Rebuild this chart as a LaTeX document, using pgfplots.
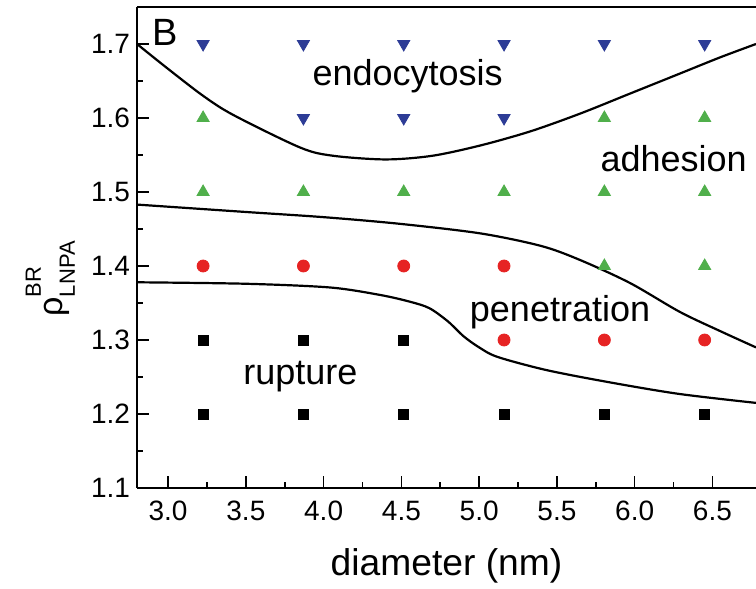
\documentclass[border=0pt]{standalone}
\usepackage{pgfplots}
\pgfplotsset{compat=1.18}
\usepackage{fontspec}
\setmainfont{Liberation Sans}

\definecolor{triblue}{RGB}{45,60,150}
\definecolor{trigreen}{RGB}{80,175,75}
\definecolor{dotred}{RGB}{230,35,35}

\begin{document}
\begin{tikzpicture}
\begin{axis}[
    scale only axis,
    width=309.5pt, height=240.5pt,
    xmin=2.8, xmax=6.78,
    ymin=1.1, ymax=1.75,
    axis x line=box, axis y line=left,
    x axis line style={-}, y axis line style={-},
    axis line style={line width=1pt},
    xtick pos=bottom, ytick pos=left,
    xtick={3.0,3.5,...,6.5},
    ytick={1.1,1.2,...,1.7},
    minor tick num=1,
    tick align=inside,
    major tick length=6pt, minor tick length=3pt,
    tick style={line width=0.8pt, black},
    /pgf/number format/assume math mode=true,
    /pgf/number format/fixed,
    /pgf/number format/fixed zerofill,
    /pgf/number format/precision=1,
    tick label style={font=\fontsize{14}{16}\selectfont},
    xticklabel style={yshift=-3pt},
    xlabel={diameter (nm)},
    xlabel style={font=\fontsize{18.6}{20}\selectfont, at={(rel axis cs:0.5,-0.162)}, anchor=center},
    ylabel={\fontsize{17}{18}\selectfont ρ\raisebox{1.2ex}{\rlap{\fontsize{11}{12}\selectfont BR}}\raisebox{-0.7ex}{\fontsize{11}{12}\selectfont LNPA}},
    ylabel style={at={(rel axis cs:-0.14,0.435)}, anchor=center},
    clip=false,
]
% region boundaries
\addplot[black, line width=1.1pt, smooth] coordinates {
  (2.80,1.700) (2.99,1.668) (3.225,1.630) (3.42,1.604) (3.85,1.560)
  (4.06,1.549) (4.40,1.544) (4.70,1.549) (5.01,1.563) (5.33,1.582)
  (5.65,1.606) (5.97,1.633) (6.29,1.660) (6.55,1.682) (6.78,1.700)};
\addplot[black, line width=1.1pt, smooth] coordinates {
  (2.80,1.483) (3.5,1.473) (4.0,1.466) (4.49,1.457) (5.01,1.444)
  (5.4,1.427) (5.65,1.408) (5.97,1.377) (6.29,1.338) (6.55,1.312) (6.78,1.290)};
\addplot[black, line width=1.1pt, smooth] coordinates {
  (2.80,1.378) (3.5,1.376) (4.04,1.371) (4.36,1.361) (4.55,1.352)
  (4.68,1.343) (4.80,1.325) (4.90,1.305) (5.0,1.290) (5.12,1.277)
  (5.44,1.259) (5.86,1.242) (6.29,1.227) (6.78,1.215)};
% endocytosis
\addplot[only marks, mark=triangle*, mark size=3.5pt, color=triblue,
  every mark/.append style={rotate=180}] coordinates {
  (3.225,1.7) (3.87,1.7) (4.515,1.7) (5.16,1.7) (5.805,1.7) (6.45,1.7)
  (3.87,1.6) (4.515,1.6) (5.16,1.6)};
% adhesion
\addplot[only marks, mark=triangle*, mark size=3.5pt, color=trigreen] coordinates {
  (3.225,1.6) (5.805,1.6) (6.45,1.6)
  (3.225,1.5) (3.87,1.5) (4.515,1.5) (5.16,1.5) (5.805,1.5) (6.45,1.5)
  (5.805,1.4) (6.45,1.4)};
% penetration
\addplot[only marks, mark=*, mark size=3pt, color=dotred] coordinates {
  (3.225,1.4) (3.87,1.4) (4.515,1.4) (5.16,1.4)
  (5.16,1.3) (5.805,1.3) (6.45,1.3)};
% rupture
\addplot[only marks, mark=square*, mark size=2.5pt, color=black] coordinates {
  (3.225,1.3) (3.87,1.3) (4.515,1.3)
  (3.225,1.2) (3.87,1.2) (4.515,1.2) (5.16,1.2) (5.805,1.2) (6.45,1.2)};
\node[font=\fontsize{19}{20}\selectfont] at (axis cs:2.98,1.716) {B};
\node[font=\fontsize{18}{19}\selectfont] at (axis cs:4.54,1.657) {endocytosis};
\node[font=\fontsize{18}{19}\selectfont] at (axis cs:6.25,1.545) {adhesion};
\node[font=\fontsize{18}{19}\selectfont] at (axis cs:5.52,1.337) {penetration};
\node[font=\fontsize{18}{19}\selectfont] at (axis cs:3.85,1.25) {rupture};
\coordinate (llc) at (rel axis cs:0,0);
\coordinate (urc) at (rel axis cs:1,1);
\end{axis}
\pgfresetboundingbox
\path[use as bounding box] ([xshift=-68.5pt,yshift=-50.5pt]llc) rectangle ([yshift=3.5pt]urc);
\end{tikzpicture}
\end{document}
